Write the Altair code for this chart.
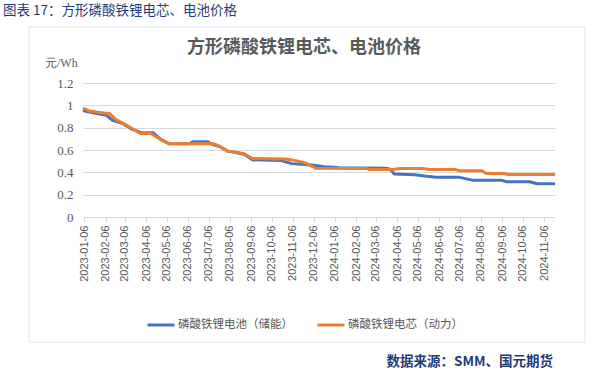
import altair as alt
import pandas as pd

# ---------------- data ----------------
TICK_LABELS = [
    "2023-01-06", "2023-02-06", "2023-03-06", "2023-04-06", "2023-05-06", "2023-06-06",
    "2023-07-06", "2023-08-06", "2023-09-06", "2023-10-06", "2023-11-06", "2023-12-06",
    "2024-01-06", "2024-02-06", "2024-03-06", "2024-04-06", "2024-05-06", "2024-06-06",
    "2024-07-06", "2024-08-06", "2024-09-06", "2024-10-06", "2024-11-06",
]
Y_TICKS = [0, 0.2, 0.4, 0.6, 0.8, 1.0, 1.2]
SERIES = ["磷酸铁锂电池（储能）", "磷酸铁锂电芯（动力）"]
X_RANGE = ["2023-01-04", "2024-11-22"]

BLUE_DATES = [
    "2023-01-04", "2023-01-13", "2023-02-07", "2023-02-16", "2023-03-03", "2023-03-17",
    "2023-03-30", "2023-04-16", "2023-04-28", "2023-05-10", "2023-06-08", "2023-06-13",
    "2023-07-05", "2023-07-10", "2023-07-24", "2023-08-03", "2023-08-15", "2023-08-27",
    "2023-09-08", "2023-10-20", "2023-11-04", "2023-12-03", "2023-12-22", "2024-01-13",
    "2024-03-19", "2024-03-26", "2024-04-02", "2024-05-02", "2024-05-19", "2024-06-02",
    "2024-07-06", "2024-07-26", "2024-09-05", "2024-09-13", "2024-10-16", "2024-10-27",
    "2024-11-22",
]
BLUE_VALUES = [
    0.953, 0.94, 0.91, 0.866, 0.836, 0.785,
    0.755, 0.755, 0.69, 0.655, 0.655, 0.673,
    0.673, 0.655, 0.625, 0.59, 0.578, 0.562,
    0.512, 0.505, 0.478, 0.465, 0.45, 0.44,
    0.436, 0.43, 0.385, 0.378, 0.364, 0.355,
    0.355, 0.328, 0.328, 0.316, 0.316, 0.298,
    0.298,
]

ORANGE_DATES = [
    "2023-01-04", "2023-01-13", "2023-02-06", "2023-02-11", "2023-02-21", "2023-03-05",
    "2023-03-17", "2023-03-29", "2023-04-13", "2023-04-20", "2023-05-10", "2023-07-14",
    "2023-07-22", "2023-08-03", "2023-08-15", "2023-08-27", "2023-09-08", "2023-10-27",
    "2023-11-10", "2023-11-24", "2023-12-10", "2024-02-21", "2024-02-26", "2024-03-30",
    "2024-04-10", "2024-05-13", "2024-05-23", "2024-06-29", "2024-07-06", "2024-08-07",
    "2024-08-14", "2024-09-07", "2024-09-15", "2024-11-22",
]
ORANGE_VALUES = [
    0.975, 0.95, 0.93, 0.93, 0.872, 0.834,
    0.79, 0.748, 0.748, 0.72, 0.655, 0.655,
    0.634, 0.59, 0.58, 0.566, 0.524, 0.52,
    0.505, 0.485, 0.436, 0.435, 0.425, 0.425,
    0.435, 0.435, 0.425, 0.425, 0.415, 0.415,
    0.39, 0.39, 0.38, 0.38,
]

TOP_TITLE = "图表 17：方形磷酸铁锂电芯、电池价格"
CHART_TITLE = "方形磷酸铁锂电芯、电池价格"
UNIT = "元/Wh"
SOURCE = "数据来源：SMM、国元期货"


def ms(s):
    return int(pd.Timestamp(s, tz="UTC").value // 10**6)


blue_df = pd.DataFrame({"date": [ms(d) for d in BLUE_DATES], "value": BLUE_VALUES, "series": SERIES[0]})
orange_df = pd.DataFrame({"date": [ms(d) for d in ORANGE_DATES], "value": ORANGE_VALUES, "series": SERIES[1]})

GRID = "#d9d9d9"
TXT = "#595959"
NAVY = "#1f3c78"
CJK = "Noto Sans CJK SC"

x_enc = alt.X(
    "date:T",
    scale=alt.Scale(type="utc", domain=[ms(X_RANGE[0]), ms(X_RANGE[1])]),
    axis=alt.Axis(
        values=[ms(t) for t in TICK_LABELS],
        labelExpr="utcFormat(datum.value, '%Y-%m-%d')",
        labelAngle=270,
        labelFont="Liberation Sans",
        labelFontSize=11,
        labelColor=TXT,
        labelOverlap=False,
        labelPadding=3,
        tickColor=GRID,
        tickSize=5,
        domainColor=GRID,
        grid=False,
        title=None,
    ),
)
y_enc = alt.Y(
    "value:Q",
    scale=alt.Scale(domain=[0, 1.2], nice=False),
    axis=alt.Axis(
        values=Y_TICKS,
        format=".1~f",
        labelFont="Liberation Serif",
        labelFontSize=13,
        labelColor=TXT,
        labelPadding=10,
        domain=False,
        ticks=False,
        gridColor=GRID,
        title=None,
    ),
)
color_scale = alt.Scale(domain=SERIES, range=["#4472C4", "#ED7D31"])
legend = alt.Legend(
    orient="none",
    legendX=63,
    legendY=227,
    direction="horizontal",
    title=None,
    symbolType="stroke",
    symbolSize=729,
    symbolStrokeWidth=3,
    labelFont=CJK,
    labelFontSize=11.5,
    labelColor=TXT,
    labelOffset=2,
    columnPadding=18,
    padding=0,
)

blue_line = alt.Chart(blue_df).mark_line(strokeWidth=3, strokeJoin="round").encode(
    x=x_enc, y=y_enc, color=alt.Color("series:N", scale=color_scale, legend=legend)
)
orange_line = alt.Chart(orange_df).mark_line(strokeWidth=3, strokeJoin="round").encode(
    x=x_enc, y=y_enc, color=alt.Color("series:N", scale=color_scale, legend=legend)
)

frame = alt.Chart(pd.DataFrame({"k": [0]})).mark_rect(
    filled=False, stroke="#dce6f2", strokeWidth=1
).encode(x=alt.value(-54), x2=alt.value(502), y=alt.value(-56), y2=alt.value(259))


def label(text, x, y, size, color, font, align="left", weight="normal"):
    return alt.Chart(pd.DataFrame({"t": [text]})).mark_text(
        align=align, baseline="middle", fontSize=size, color=color, font=font, fontWeight=weight
    ).encode(x=alt.value(x), y=alt.value(y), text="t:N")


top_title = label(TOP_TITLE, -80, -72, 13.5, NAVY, CJK)
chart_title = label(CHART_TITLE, 221, -35, 18, TXT, CJK, align="center", weight="bold")
unit = label(UNIT, -38, -20, 12, TXT, "Liberation Serif")
source = label(SOURCE, 470, 279, 13.5, NAVY, CJK, align="right", weight="bold")

chart = alt.layer(frame, top_title, chart_title, unit, source, blue_line, orange_line).properties(
    width=472,
    height=134,
    autosize=alt.AutoSizeParams(type="none"),
    padding={"left": 83, "top": 83, "right": 37, "bottom": 158},
    background="white",
).configure_view(strokeWidth=0)

chart.save("out.html", embed_options={"renderer": "svg", "actions": False})
